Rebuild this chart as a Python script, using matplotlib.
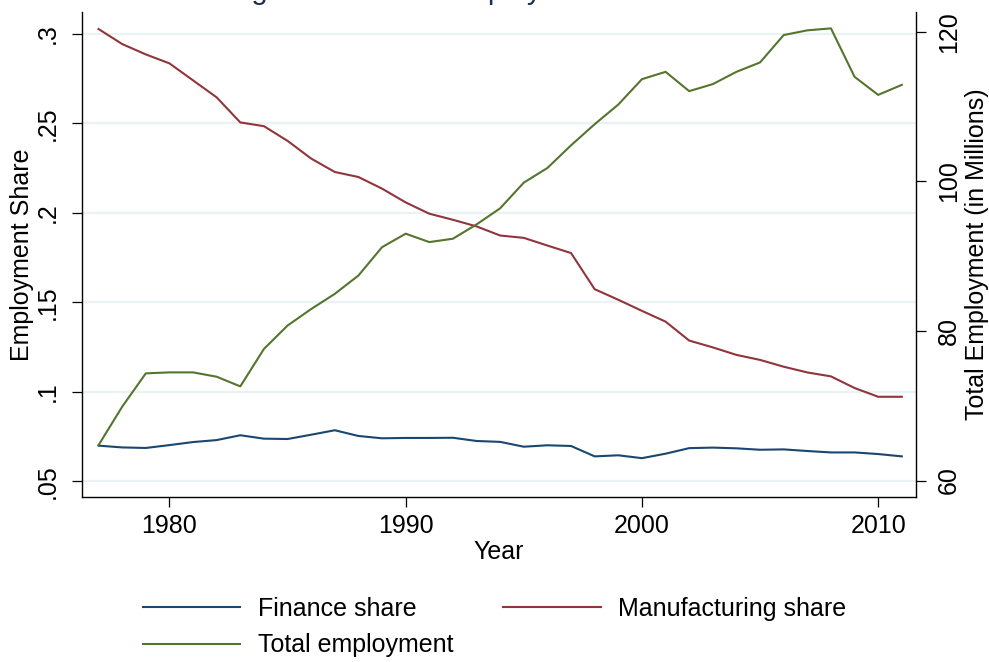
import matplotlib
matplotlib.use("Agg")
import matplotlib.pyplot as plt

plt.rcParams["font.family"] = ["Liberation Sans", "DejaVu Sans"]

years = list(range(1977, 2012))

finance_share = [
    0.0700, 0.0690, 0.0687, 0.0703, 0.0720, 0.0731, 0.0758, 0.0739, 0.0737, 0.0761,
    0.0786, 0.0754, 0.0741, 0.0743, 0.0743, 0.0744, 0.0726, 0.0721, 0.0694, 0.0702,
    0.0698, 0.0640, 0.0646, 0.0630, 0.0655, 0.0686, 0.0689, 0.0685, 0.0677, 0.0679,
    0.0670, 0.0662, 0.0662, 0.0653, 0.0640,
]

manufacturing_share = [
    0.3028, 0.2944, 0.2886, 0.2836, 0.2741, 0.2646, 0.2506, 0.2485, 0.2403, 0.2304,
    0.2229, 0.2201, 0.2136, 0.2059, 0.1996, 0.1962, 0.1925, 0.1874, 0.1861, 0.1818,
    0.1776, 0.1574, 0.1515, 0.1453, 0.1393, 0.1287, 0.1249, 0.1207, 0.1179, 0.1141,
    0.1109, 0.1087, 0.1022, 0.0973, 0.0973,
]

total_employment = [
    64.73, 69.87, 74.33, 74.46, 74.46, 73.88, 72.59, 77.59, 80.72, 82.93,
    84.96, 87.41, 91.20, 93.00, 91.88, 92.33, 94.24, 96.40, 99.83, 101.79,
    104.82, 107.64, 110.27, 113.66, 114.64, 112.06, 113.00, 114.64, 115.90, 119.56,
    120.19, 120.45, 113.97, 111.56, 112.90,
]

left_ticks = [0.05, 0.10, 0.15, 0.20, 0.25, 0.30]
left_ticklabels = [".05", ".1", ".15", ".2", ".25", ".3"]
right_ticks = [60, 80, 100, 120]
x_ticks = [1980, 1990, 2000, 2010]

NAVY = "#1a476f"
MAROON = "#90353b"
GREEN = "#55752f"
GRID = "#eaf2f3"
FS = 18

fig = plt.figure(figsize=(9.89, 6.62), dpi=100)
ax = fig.add_axes([82 / 989, (662 - 497) / 662, (916 - 82) / 989, (497 - 12) / 662])
ax2 = ax.twinx()

l1, = ax.plot(years, finance_share, color=NAVY, lw=1.5, label="Finance share")
l2, = ax.plot(years, manufacturing_share, color=MAROON, lw=1.5, label="Manufacturing share")
l3, = ax2.plot(years, total_employment, color=GREEN, lw=1.5, label="Total employment")

ax.set_xlim(1976.3, 2011.6)
ax.set_ylim(0.0413, 0.3123)
ax2.set_ylim(57.8, 122.64)

ax.set_yticks(left_ticks)
ax.set_yticklabels(left_ticklabels, rotation=90, va="center")
ax2.set_yticks(right_ticks)
ax2.set_yticklabels([str(t) for t in right_ticks], rotation=90, va="center")
ax.set_xticks(x_ticks)

ax.grid(True, axis="y", color=GRID, lw=1.6)
ax.set_axisbelow(True)

for a in (ax, ax2):
    a.spines["top"].set_visible(False)
    for s in ("left", "right", "bottom"):
        a.spines[s].set_linewidth(1.0)
ax.spines["right"].set_visible(False)
ax2.spines["left"].set_visible(False)
ax2.spines["bottom"].set_visible(False)

ax.tick_params(axis="x", labelsize=FS, length=7, width=0.9, pad=5)
ax.tick_params(axis="y", labelsize=FS, length=7, width=0.9, pad=9)
ax2.tick_params(axis="y", labelsize=FS, length=7, width=0.9, pad=8)

ax.set_xlabel("Year", fontsize=FS, labelpad=2)
ax.set_ylabel("Employment Share", fontsize=FS, labelpad=1)
ax2.set_ylabel("Total Employment (in Millions)", fontsize=FS, labelpad=3)

# title is cropped at the top edge in the reference, only descenders show
fig.text(83 / 989, 1.0015, "Manufacturing and Finance Employment",
         ha="left", va="baseline", fontsize=21, color="#1c2b5a")

# column-wise fill: Finance / Total in col 1, Manufacturing in col 2
fig.legend(handles=[l1, l3, l2], loc="center", ncol=2,
           bbox_to_anchor=(0.5, (662 - 627) / 662), frameon=False,
           fontsize=FS, handlelength=3.9, handletextpad=0.7,
           columnspacing=2.0, labelspacing=0.5)

fig.savefig("out.png", dpi=100)
